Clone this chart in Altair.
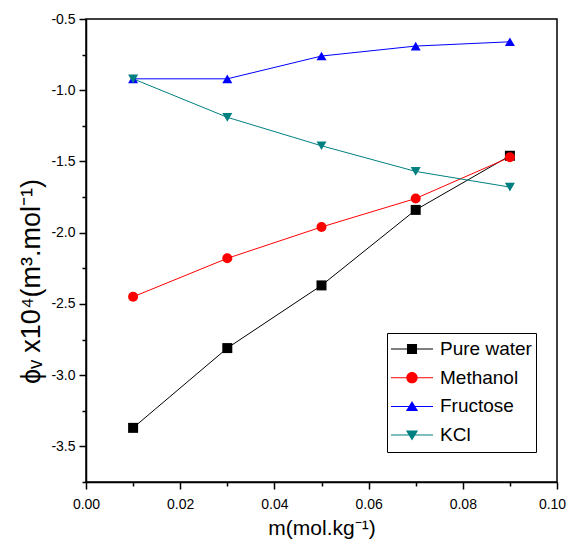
import altair as alt
import pandas as pd

series = ["Pure water", "Methanol", "Fructose", "KCl"]
m_vals = [0.01, 0.03, 0.05, 0.07, 0.09]
pure_water = [-3.37, -2.81, -2.37, -1.84, -1.46]
methanol = [-2.45, -2.18, -1.96, -1.76, -1.47]
fructose = [-0.92, -0.92, -0.76, -0.69, -0.66]
kcl = [-0.92, -1.19, -1.39, -1.57, -1.68]
colors = ["#000000", "#FF0000", "#0000FF", "#008080"]
shapes = ["square", "circle", "triangle-up", "triangle-down"]
x_ticks = [0.0, 0.01, 0.02, 0.03, 0.04, 0.05, 0.06, 0.07, 0.08, 0.09, 0.10]
y_ticks = [-3.75, -3.5, -3.25, -3.0, -2.75, -2.5, -2.25, -2.0, -1.75, -1.5,
           -1.25, -1.0, -0.75, -0.5]

rows = []
for name, vals in zip(series, [pure_water, methanol, fructose, kcl]):
    for m, v in zip(m_vals, vals):
        rows.append({"series": name, "m": m, "phi": v})
df = pd.DataFrame(rows)

bar = "M-1,-0.024H1V0.024H-1Z"
legend_paths = [
    bar + "M-0.24,-0.24H0.24V0.24H-0.24Z",
    bar + "M-0.27,0A0.27,0.27,0,1,1,0.27,0A0.27,0.27,0,1,1,-0.27,0Z",
    bar + "M0,-0.26L0.29,0.22L-0.29,0.22Z",
    bar + "M0,0.26L-0.29,-0.22L0.29,-0.22Z",
]

FONT = "Liberation Sans"

x_enc = alt.X(
    "m:Q",
    scale=alt.Scale(domain=[0, 0.1], nice=False, zero=False),
    axis=alt.Axis(
        title="m(mol.kg⁻¹)",
        titleFontSize=21,
        values=x_ticks,
        labelFlush=False,
        labelExpr="round(datum.value*100) % 2 == 0 ? format(datum.value, '.2f') : ''",
        labelOffset={"condition": {"test": "datum.value > 0.095", "value": -5}, "value": 0},
        tickSize={"condition": {"test": "round(datum.value*100) % 2 == 0", "value": 7}, "value": 4},
        labelPadding=8,
        titlePadding=6,
    ),
)
y_enc = alt.Y(
    "phi:Q",
    scale=alt.Scale(domain=[-3.75, -0.5], nice=False, zero=False),
    axis=alt.Axis(
        title="ϕᵥ x10⁴(m³.mol⁻¹)",
        titleFontSize=27,
        titleY=262,
        values=y_ticks,
        labelFlush=False,
        labelExpr="round(datum.value*4) % 2 == 0 ? replace(format(datum.value, '.1f'), '\u2212', '-') : ''",
        tickSize={"condition": {"test": "round(datum.value*4) % 2 == 0", "value": 7}, "value": 4},
        labelPadding=4,
        titlePadding=5,
    ),
)

lines = alt.Chart(df).mark_line(strokeWidth=1).encode(
    x=x_enc, y=y_enc,
    color=alt.Color("series:N", scale=alt.Scale(domain=series, range=colors), legend=None),
    detail="series:N",
)

points = alt.Chart(df).mark_point(filled=True, opacity=1, size=100).encode(
    x=x_enc, y=y_enc,
    color=alt.Color("series:N", scale=alt.Scale(domain=series, range=colors), legend=None),
    shape=alt.Shape("series:N", scale=alt.Scale(domain=series, range=shapes), legend=None),
)

legend_kw = dict(
    title=None,
    orient="none",
    legendX=301,
    legendY=314,
    symbolSize=1764,
    clipHeight=24,
    rowPadding=4.7,
    padding=4,
    labelOffset=7,
    labelFont=FONT,
    labelFontSize=19,
    labelColor="#000000",
    strokeColor="#000000",
    fillColor="#FFFFFF",
    symbolStrokeWidth=0,
    symbolOpacity=1,
)

legend_layer = alt.Chart(df).transform_filter("false").mark_point(filled=True, opacity=1).encode(
    x=x_enc, y=y_enc,
    color=alt.Color(
        "series:N",
        scale=alt.Scale(domain=series, range=colors),
        legend=alt.Legend(**legend_kw),
    ),
    shape=alt.Shape(
        "series:N",
        scale=alt.Scale(domain=series, range=legend_paths),
        legend=alt.Legend(**legend_kw),
    ),
)

chart = alt.layer(lines, points, legend_layer).resolve_scale(
    color="independent", shape="independent"
).properties(
    width=471,
    height=463,
    autosize=alt.AutoSizeParams(type="none"),
    padding={"left": 78, "top": 11, "right": 9, "bottom": 61},
).configure_view(
    stroke="#000000", strokeWidth=1.5
).configure_axis(
    grid=False,
    domainColor="#000000",
    domainWidth=1.5,
    tickColor="#000000",
    tickWidth=1.5,
    labelFont=FONT,
    labelFontSize=14,
    labelColor="#000000",
    titleFont=FONT,
    titleFontWeight="normal",
    titleColor="#000000",
)

chart.save("out.html", embed_options={"renderer": "svg", "actions": False})
